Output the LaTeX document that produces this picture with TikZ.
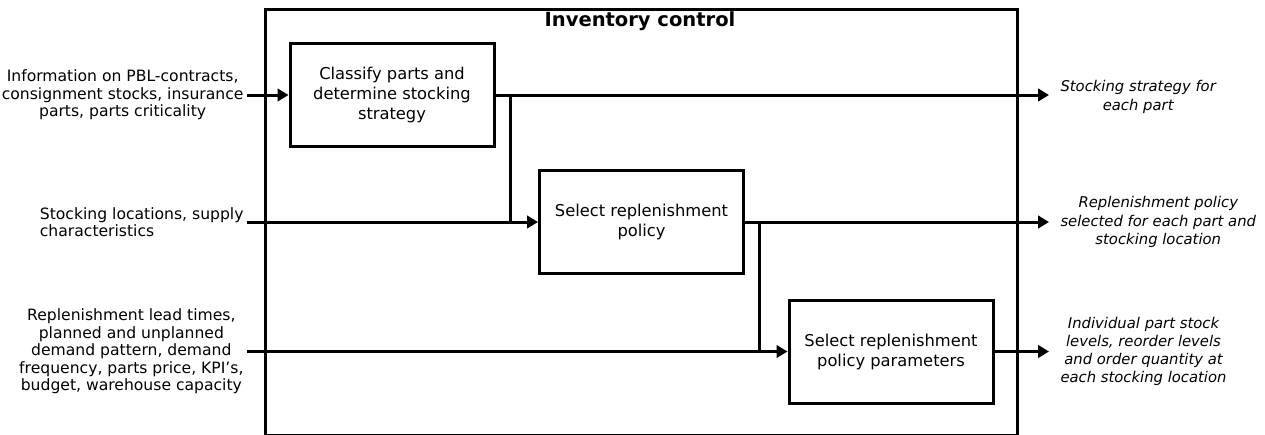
\documentclass[tikz,border=0pt]{standalone}
\usepackage{fontspec}
\setmainfont{DejaVu Sans}
\usetikzlibrary{arrows.meta}
\begin{document}
\begin{tikzpicture}[x=1pt,y=-1pt,
  line width=3pt,
  proc/.style={draw, line width=3pt, minimum width=204pt, minimum height=103pt, inner sep=0pt, align=center, font=\fontsize{16.3}{20}\selectfont},
  intext/.style={anchor=east, align=center, inner sep=2pt, font=\fontsize{15.6}{17.5}\selectfont},
  outtext/.style={anchor=west, align=center, inner sep=1pt, font=\fontsize{14.8}{18.2}\selectfont\itshape},
  flow/.style={-{Triangle[length=11pt,width=12.5pt]}, line width=3pt},
  plainline/.style={line width=3pt}]
\useasboundingbox (0,0) rectangle (1265,434);
\node[draw, line width=3pt, minimum width=752pt, minimum height=425.5pt, anchor=north west, inner sep=0pt] (frame) at (264,8) {};
\node[font=\bfseries\fontsize{19.5}{22}\selectfont] (title) at (640,21) {Inventory control};

\node[proc] (b1) at (392,95) {Classify parts and\\determine stocking\\strategy};
\node[proc] (b2) at (641.5,222) {Select replenishment\\policy};
\node[proc] (b3) at (891,351.5) {Select replenishment\\policy parameters};

\node[intext] (in1) at (247,95) {Information on PBL-contracts,\\consignment stocks, insurance\\parts, parts criticality};
\node[intext, align=left] (in2) at (247,222) {Stocking locations, supply\\characteristics};
\node[intext] (in3) at (247,351.5) {Replenishment lead times,\\planned and unplanned\\demand pattern, demand\\frequency, parts price, KPI’s,\\budget, warehouse capacity};

\node[outtext] (o1) at (1058,97) {Stocking strategy for\\each part};
\node[outtext] (o2) at (1058,222) {Replenishment policy\\selected for each part and\\stocking location};
\node[outtext] (o3) at (1058,351.5) {Individual part stock\\levels, reorder levels\\and order quantity at\\each stocking location};

\draw[flow] (in1.east) -- (b1.west);
\draw[flow] (in2.east) -- (b2.west);
\draw[flow] (in3.east) -- (b3.west);

\draw[flow] (b1.east) -- ([xshift=-9pt]o1.west |- b1.east);
\draw[flow] (b2.east) -- ([xshift=-9pt]o2.west |- b2.east);
\draw[flow] (b3.east) -- ([xshift=-9pt]o3.west |- b3.east);

\coordinate (j1) at (510,95);
\coordinate (j2) at (759,222);
\draw[plainline] (j1) -- (j1 |- b2.west);
\draw[plainline] (j2) -- (j2 |- b3.west);
\end{tikzpicture}
\end{document}
